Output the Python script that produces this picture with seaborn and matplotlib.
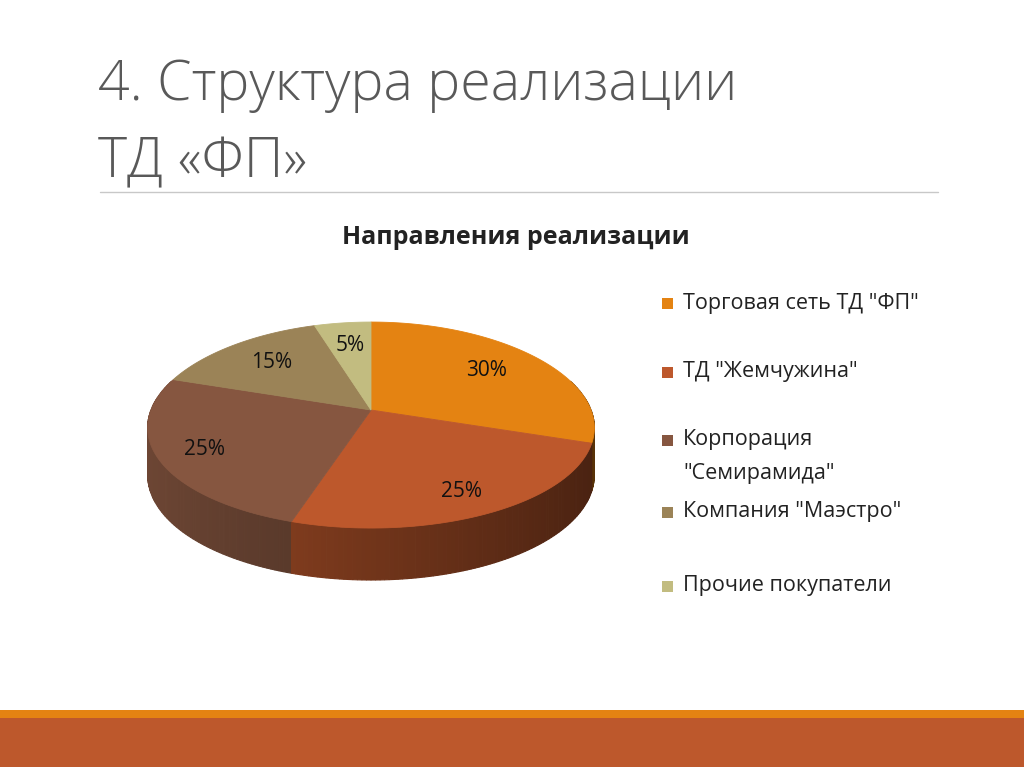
import numpy as np
import matplotlib
matplotlib.use("Agg")
import matplotlib.pyplot as plt
import matplotlib.colors as mcolors
from matplotlib.patches import Rectangle
import seaborn as sns

# chart data
categories = ['Торговая сеть ТД "ФП"', 'ТД "Жемчужина"', 'Корпорация\n"Семирамида"',
              'Компания "Маэстро"', 'Прочие покупатели']
shares = [30, 25, 25, 15, 5]
pct_labels = [f"{s}%" for s in shares]
colors = ["#E48312", "#BD582C", "#865640", "#9B8357", "#C2BC80"]

slide_title = ["4. Структура реализации", "ТД «ФП»"]
chart_title = "Направления реализации"

sns.set_style("white")
palette = sns.color_palette(colors)
plt.rcParams['font.family'] = ['Open Sans', 'DejaVu Sans']

W, H = 1024, 767
fig = plt.figure(figsize=(W / 100, H / 100), dpi=100)
ax = fig.add_axes([0, 0, 1, 1])
ax.set_xlim(0, W)
ax.set_ylim(H, 0)
ax.axis("off")

# 3d pie layout (pixel space of the slide)
cx, cy = 371, 410
a, b = 220, 103
kx, ky = 0.178, 0.146      # perspective: near side wider / taller
depth, kd = 46, 0.13


def proj(rho, phi, drop=0.0):
    u = rho * np.sin(phi)
    v = -rho * np.cos(phi)
    x = cx + a * u * (1 + kx * v)
    y = cy + b * v * (1 + ky * v) + drop * depth * (1 + kd * v)
    return x, y


fr = np.array(shares) / sum(shares)
edges = np.concatenate([[0], np.cumsum(fr)]) * 2 * np.pi

# side wall, back to front
facets = []
for i in range(len(shares)):
    phis = np.linspace(edges[i], edges[i + 1], max(int(fr[i] * 360), 2) + 1)
    for p0, p1 in zip(phis[:-1], phis[1:]):
        pm = (p0 + p1) / 2
        facets.append((-np.cos(pm), np.sin(pm), i, p0, p1))
facets.sort(key=lambda f: f[0])
for v, u, i, p0, p1 in facets:
    if v < -0.3:
        continue
    x0, y0 = proj(1, p0)
    x1, y1 = proj(1, p1)
    x2, y2 = proj(1, p1, 1)
    x3, y3 = proj(1, p0, 1)
    shade = np.clip(0.6 - 0.22 * u, 0.35, 0.9)
    c = np.array(mcolors.to_rgb(palette[i])) * shade
    ax.fill([x0, x1, x2, x3], [y0, y1, y2, y3], color=c, ec=c, lw=0.8)

# top face
for i in range(len(shares)):
    phis = np.linspace(edges[i], edges[i + 1], 120)
    xs, ys = proj(1, phis)
    ax.fill(np.r_[cx, xs], np.r_[cy, ys], color=palette[i], ec=palette[i], lw=0.6)

# percent labels
label_r = [0.7, 0.8, 0.8, 0.7, 0.7]
mids = (edges[:-1] + edges[1:]) / 2
for i, lab in enumerate(pct_labels):
    x, y = proj(label_r[i], mids[i])
    ax.text(x, y, lab, ha="center", va="center", fontsize=15, color="#111111")

# legend
legend_y = [303, 372, 440, 512, 586]
for i, cat in enumerate(categories):
    ax.add_patch(Rectangle((662, legend_y[i] - 5.5), 11, 11, color=palette[i], lw=0))
    for j, line in enumerate(cat.split("\n")):
        ax.text(683, legend_y[i] + j * 33, line, ha="left", va="center",
                fontsize=15.5, color="#222222")

# titles
for k, ty in enumerate([100, 177]):
    ax.text(98, ty, slide_title[k], ha="left", va="baseline", fontsize=40,
            fontweight="light", color="#595959")
ax.plot([100, 938], [192, 192], color="#C8C8C8", lw=1)
ax.text(516, 237, chart_title, ha="center", va="center", fontsize=18,
        fontweight="bold", color="#222222")

# bottom bands
ax.add_patch(Rectangle((0, 710), W, 8, color="#E48312", lw=0))
ax.add_patch(Rectangle((0, 718), W, H - 718, color="#BD582C", lw=0))

fig.savefig("out.png", dpi=100)
